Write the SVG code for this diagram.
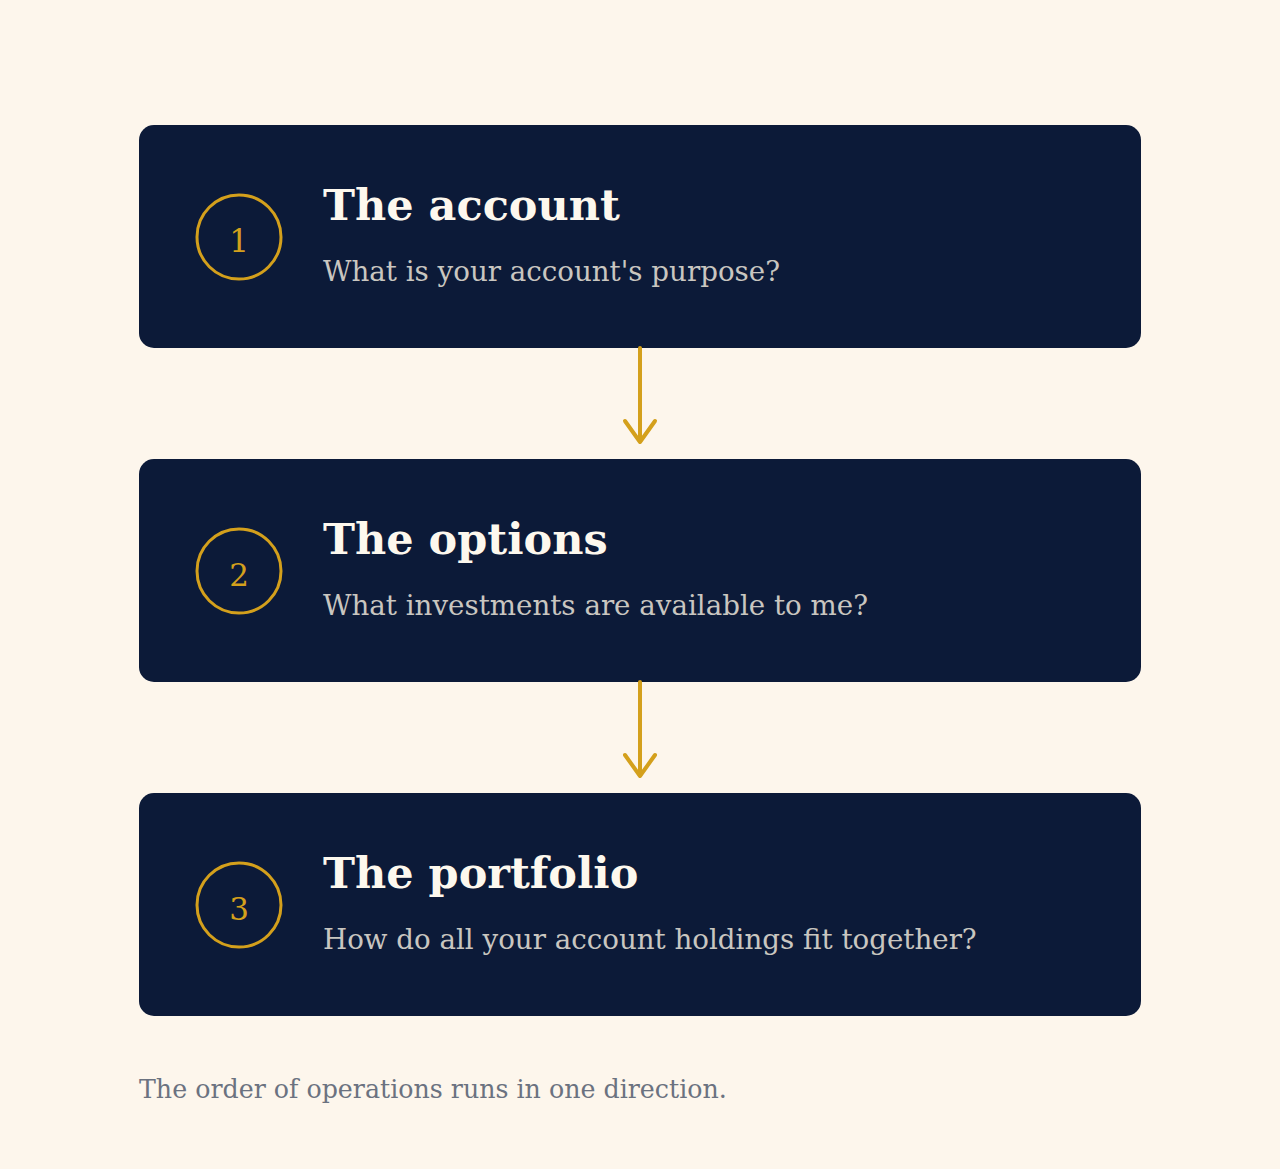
<svg xmlns="http://www.w3.org/2000/svg" width="1280" height="1169" viewBox="0 0 1280 1169">
<defs>
<style>
.box{fill:#0C1A38;}
.num-c{fill:none;stroke:#D4A01C;stroke-width:3;}
.num{font-family:"DejaVu Serif","Liberation Serif",serif;font-size:31px;fill:#D4A01C;text-anchor:middle;}
.title{font-family:"DejaVu Serif","Liberation Serif",serif;font-size:43px;font-weight:bold;fill:#FDF8EE;}
.sub{font-family:"DejaVu Serif","Liberation Serif",serif;font-size:27.7px;fill:#C9C6C0;}
.foot{font-family:"DejaVu Serif","Liberation Serif",serif;font-size:25.3px;fill:#6B7280;}
.conn{fill:none;stroke:#D4A01C;stroke-width:4;stroke-linecap:round;stroke-linejoin:round;}
</style>
</defs>
<rect width="1280" height="1169" fill="#FDF6EC"/>
<g id="node-1">
<rect class="box" x="139" y="125" width="1002" height="223" rx="15"/>
<circle class="num-c" cx="239" cy="237" r="42"/>
<text class="num" x="239" y="252">1</text>
<text class="title" x="323" y="220">The account</text>
<text class="sub" x="323" y="281">What is your account's purpose?</text>
</g>
<g id="node-2">
<rect class="box" x="139" y="459" width="1002" height="223" rx="15"/>
<circle class="num-c" cx="239" cy="571" r="42"/>
<text class="num" x="239" y="586">2</text>
<text class="title" x="323" y="554">The options</text>
<text class="sub" x="323" y="615">What investments are available to me?</text>
</g>
<g id="node-3">
<rect class="box" x="139" y="793" width="1002" height="223" rx="15"/>
<circle class="num-c" cx="239" cy="905" r="42"/>
<text class="num" x="239" y="920">3</text>
<text class="title" x="323" y="888">The portfolio</text>
<text class="sub" x="323" y="949">How do all your account holdings fit together?</text>
</g>
<g id="connectors">
<path class="conn" d="M640 348 V442 M625 421 L640 442 L655 421"/>
<path class="conn" d="M640 682 V776 M625 755 L640 776 L655 755"/>
</g>
<text class="foot" x="139" y="1098">The order of operations runs in one direction.</text>
</svg>
